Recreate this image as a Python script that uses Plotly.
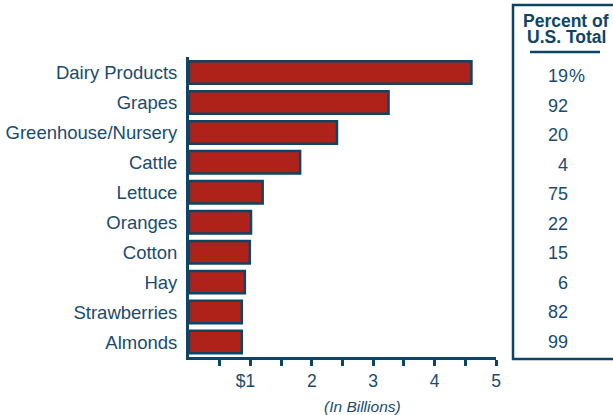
import plotly.graph_objects as go

# ---- data ----
categories = ["Dairy Products", "Grapes", "Greenhouse/Nursery", "Cattle", "Lettuce",
              "Oranges", "Cotton", "Hay", "Strawberries", "Almonds"]
values_billions = [4.6, 3.25, 2.41, 1.81, 1.2, 1.01, 0.99, 0.91, 0.86, 0.86]
percent_of_us = [19, 92, 20, 4, 75, 22, 15, 6, 82, 99]
tick_vals = [1, 2, 3, 4, 5]
tick_labels = ["$1\u2007", "2", "3", "4", "5"]
minor_tick_vals = [0.5, 1.5, 2.5, 3.5, 4.5]

# ---- style ----
W, H = 613, 415
ML, MR, MT, MB = 189, 117, 57, 58
BLUE = "#0E4566"
TEXT = "#1A4B6E"
RED = "#AF2219"
FONT = "Liberation Sans, Arial, sans-serif"
FS = 18

PW = W - ML - MR
PH = H - MT - MB


def px_x(x):
    return (x - ML) / PW


def px_y(y):
    return (H - MB - y) / PH


fig = go.Figure()
fig.add_trace(go.Bar(
    x=values_billions, y=categories, orientation="h",
    marker=dict(color=RED, line=dict(color=BLUE, width=2.5)),
    width=0.75, hoverinfo="skip",
))

all_ticks = sorted(tick_vals + minor_tick_vals)
all_text = [tick_labels[tick_vals.index(v)] if v in tick_vals else "" for v in all_ticks]

fig.update_layout(
    width=W, height=H,
    margin=dict(l=ML, r=MR, t=MT, b=MB, pad=0),
    paper_bgcolor="white", plot_bgcolor="white",
    showlegend=False,
    font=dict(family=FONT, color=TEXT, size=FS),
    xaxis=dict(
        range=[0, 5], showgrid=False, zeroline=False,
        showline=True, linecolor=BLUE, linewidth=3,
        ticks="outside", ticklen=6, tickwidth=2.5, tickcolor=BLUE,
        tickvals=all_ticks, ticktext=all_text,
        tickfont=dict(size=17.5, color=TEXT),
        automargin=False, fixedrange=True,
    ),
    yaxis=dict(
        categoryorder="array", categoryarray=categories,
        autorange="reversed", showgrid=False, zeroline=False,
        showline=True, linecolor=BLUE, linewidth=3,
        ticks="", ticklabelstandoff=5,
        tickfont=dict(size=18.5, color=TEXT),
        automargin=False, fixedrange=True,
    ),
)

# axis caption
fig.add_annotation(
    text="<i>(In Billions)</i>", xref="x", yref="paper",
    x=2.82, y=px_y(406), xanchor="center", yanchor="middle",
    showarrow=False, font=dict(size=15.5, color=TEXT),
)

# table box on the right
fig.add_shape(type="rect", xref="paper", yref="paper",
              x0=px_x(513), x1=px_x(640), y0=px_y(359), y1=px_y(5),
              line=dict(color=BLUE, width=2.5), fillcolor="rgba(0,0,0,0)")
fig.add_shape(type="line", xref="paper", yref="paper",
              x0=px_x(530), x1=px_x(600), y0=px_y(52), y1=px_y(52),
              line=dict(color=BLUE, width=2.5))
fig.add_annotation(
    text="<b>Percent of</b>", xref="paper", yref="paper",
    x=px_x(566), y=px_y(21), xanchor="center", yanchor="middle",
    showarrow=False, font=dict(size=17.5, color=BLUE),
)
fig.add_annotation(
    text="<b>U.S. Total</b>", xref="paper", yref="paper",
    x=px_x(566), y=px_y(37), xanchor="center", yanchor="middle",
    showarrow=False, font=dict(size=17.5, color=BLUE),
)

n = len(categories)
for i, (cat, pct) in enumerate(zip(categories, percent_of_us)):
    shift = -3.5 + 3.8 * i / (n - 1)
    fig.add_annotation(
        text=str(pct), xref="paper", yref="y",
        x=px_x(570), y=cat, xanchor="right", yanchor="middle", yshift=shift,
        showarrow=False, font=dict(size=FS, color=TEXT),
    )
    if i == 0:
        fig.add_annotation(
            text="%", xref="paper", yref="y",
            x=px_x(570), y=cat, xanchor="left", yanchor="middle", yshift=shift,
            xshift=-3.5,
            showarrow=False, font=dict(size=FS, color=TEXT),
        )

fig.write_html("out.html")
